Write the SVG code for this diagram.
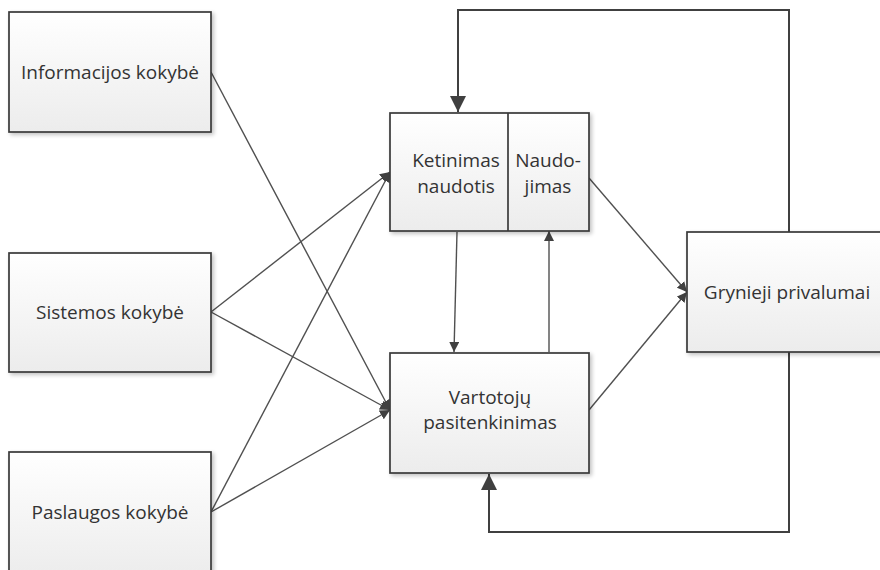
<svg xmlns="http://www.w3.org/2000/svg" width="880" height="570" viewBox="0 0 880 570">
<defs>
<linearGradient id="g" x1="0" y1="0" x2="0" y2="1">
<stop offset="0" stop-color="#ffffff"/>
<stop offset="1" stop-color="#ececec"/>
</linearGradient>
<filter id="sh" x="-10%" y="-10%" width="130%" height="130%">
<feGaussianBlur in="SourceAlpha" stdDeviation="2"/>
<feOffset dx="2" dy="2" result="b"/>
<feComponentTransfer><feFuncA type="linear" slope="0.25"/></feComponentTransfer>
<feMerge><feMergeNode/><feMergeNode in="SourceGraphic"/></feMerge>
</filter>
<marker id="ah" viewBox="0 0 10 10" refX="10" refY="5" markerWidth="10" markerHeight="10" markerUnits="userSpaceOnUse" orient="auto">
<path d="M0,0 L10,5 L0,10 z" fill="#404040"/>
</marker>
<marker id="ahb" viewBox="0 0 10 10" refX="10" refY="5" markerWidth="16" markerHeight="16" markerUnits="userSpaceOnUse" orient="auto">
<path d="M0,0 L10,5 L0,10 z" fill="#404040"/>
</marker>
</defs>
<style>
.box{fill:url(#g);stroke:#3a3a3a;stroke-width:1.7;filter:url(#sh)}
.t{font-family:"Open Sans","Liberation Sans",sans-serif;font-size:19px;fill:#333;text-anchor:middle}
.c{fill:none;stroke:#505050;stroke-width:1.4}
.cb{fill:none;stroke:#404040;stroke-width:2}
</style>
<rect width="880" height="570" fill="#fff"/>
<g id="connectors">
<path class="cb" d="M789,232 V10 H458 V112" marker-end="url(#ahb)"/>
<path class="cb" d="M789,352 V532 H489 V474" marker-end="url(#ahb)"/>
<path class="c" d="M211,72 L390,410" marker-end="url(#ah)"/>
<path class="c" d="M211,312 L390,172" marker-end="url(#ah)"/>
<path class="c" d="M211,312 L390,410" marker-end="url(#ah)"/>
<path class="c" d="M211,512 L390,172" marker-end="url(#ah)"/>
<path class="c" d="M211,512 L390,410" marker-end="url(#ah)"/>
<path class="c" d="M457,232 L454,352" marker-end="url(#ah)"/>
<path class="c" d="M549,352 L549,231" marker-end="url(#ah)"/>
<path class="c" d="M589,178 L687,292" marker-end="url(#ah)"/>
<path class="c" d="M589,410 L687,292" marker-end="url(#ah)"/>
</g>
<g id="informacijos">
<rect class="box" x="9" y="12" width="202" height="120"/>
<text class="t" x="110" y="79">Informacijos kokybė</text>
</g>
<g id="sistemos">
<rect class="box" x="9" y="253" width="202" height="119"/>
<text class="t" x="110" y="319">Sistemos kokybė</text>
</g>
<g id="paslaugos">
<rect class="box" x="9" y="452" width="202" height="125"/>
<text class="t" x="110" y="519">Paslaugos kokybė</text>
</g>
<g id="ketinimas">
<rect class="box" x="390" y="113" width="199" height="118"/>
<line x1="508" y1="113" x2="508" y2="231" stroke="#3a3a3a" stroke-width="1.7"/>
<text class="t" x="456" y="167">Ketinimas</text>
<text class="t" x="456" y="193">naudotis</text>
<text class="t" x="548" y="167">Naudo-</text>
<text class="t" x="548" y="193">jimas</text>
</g>
<g id="vartotoju">
<rect class="box" x="390" y="353" width="199" height="120"/>
<text class="t" x="490" y="404">Vartotojų</text>
<text class="t" x="490" y="429">pasitenkinimas</text>
</g>
<g id="grynieji">
<rect class="box" x="687" y="232" width="200" height="120"/>
<text class="t" x="787" y="299">Grynieji privalumai</text>
</g>
</svg>
